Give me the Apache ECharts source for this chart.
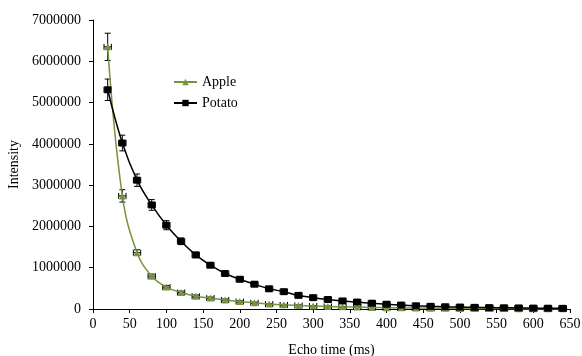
<!DOCTYPE html>
<html><head><meta charset="utf-8">
<script src="https://cdn.jsdelivr.net/npm/echarts@6/dist/echarts.min.js"></script>
<style>html,body{margin:0;padding:0;background:#fff}#c{width:582px;height:356px}</style>
</head><body><div id="c"></div>
<script>
var echoTime = [20,40,60,80,100,120,140,160,180,200,220,240,260,280,300,320,340,360,380,400,420,440,460,480,500,520,540,560,580,600,620,640];
var apple = [6350000,2740000,1365000,795000,530000,400000,310000,265000,220000,180000,150000,120000,100000,87000,74000,62000,53000,46000,39000,33000,28000,24000,20000,18000,15000,13000,11000,10000,9000,8000,7000,6000];
var potato = [5310000,4020000,3120000,2520000,2030000,1640000,1310000,1060000,860000,720000,600000,490000,420000,330000,275000,230000,195000,168000,140000,115000,95000,78000,65000,55000,47000,40000,34000,30000,26000,22000,19000,16000];
var appleErr = [330000,150000,70000,50000,40000,35000,30000,25000,22000,20000,18000,15000,13000,12000,11000,10000,9000,8000,7000,6000,6000,5000,5000,4000,4000,4000,3000,3000,3000,3000,3000,3000];
var potatoErr = [260000,190000,150000,130000,110000,80000,65000,55000,50000,45000,40000,35000,30000,28000,25000,22000,20000,18000,16000,14000,12000,11000,10000,9000,8000,7000,6000,6000,5000,5000,5000,5000];
var xErr = 5;
var yTicks = ['0','1000000','2000000','3000000','4000000','5000000','6000000','7000000'];
var xTicks = ['0','50','100','150','200','250','300','350','400','450','500','550','600','650'];

var green = '#77933C', black = '#000000';
function pairs(v){ return echoTime.map(function(t,i){return [t, v[i]];}); }
function errData(v,e){ return echoTime.map(function(t,i){return [t, v[i], e[i]];}); }
function errRender(color){
  return function(params, api){
    var x = api.value(0), y = api.value(1), e = api.value(2);
    var top = api.coord([x, y + e]), bot = api.coord([x, y - e]);
    var lft = api.coord([x - xErr, y]), rgt = api.coord([x + xErr, y]);
    var c = 3, st = {stroke: color, lineWidth: 1};
    return {type:'group', children:[
      {type:'line', shape:{x1:top[0],y1:top[1],x2:bot[0],y2:bot[1]}, style:st},
      {type:'line', shape:{x1:top[0]-c,y1:top[1],x2:top[0]+c,y2:top[1]}, style:st},
      {type:'line', shape:{x1:bot[0]-c,y1:bot[1],x2:bot[0]+c,y2:bot[1]}, style:st},
      {type:'line', shape:{x1:lft[0],y1:lft[1],x2:rgt[0],y2:rgt[1]}, style:st},
      {type:'line', shape:{x1:lft[0],y1:lft[1]-c,x2:lft[0],y2:lft[1]+c}, style:st},
      {type:'line', shape:{x1:rgt[0],y1:rgt[1]-c,x2:rgt[0],y2:rgt[1]+c}, style:st}
    ]};
  };
}
var font = 'Liberation Serif';
var chart = echarts.init(document.getElementById('c'));
chart.setOption({
  animation:false,
  backgroundColor:'#fff',
  textStyle:{fontFamily:font},
  grid:{left:93, right:12, top:20, bottom:47, containLabel:false, outerBoundsMode:'none'},
  legend:{
    orient:'vertical', left:168, top:70, itemGap:7, itemWidth:23, itemHeight:8,
    textStyle:{fontFamily:font, fontSize:14, color:'#000'},
    data:['Apple','Potato']
  },
  xAxis:{
    type:'value', min:0, max:650, interval:50,
    name:'Echo time (ms)', nameLocation:'middle', nameGap:34,
    nameTextStyle:{fontFamily:font, fontSize:14, color:'#000'},
    axisLine:{lineStyle:{color:'#000', width:1}},
    axisTick:{show:true, length:4, lineStyle:{color:'#000'}},
    axisLabel:{fontFamily:font, fontSize:14, color:'#000', margin:8,
      formatter:function(v){ var i = Math.round(v/50); return xTicks[i]; }},
    splitLine:{show:false}
  },
  yAxis:{
    type:'value', min:0, max:7000000, interval:1000000,
    name:'Intensity', nameLocation:'middle', nameGap:72, nameRotate:90,
    nameTextStyle:{fontFamily:font, fontSize:14, color:'#000'},
    axisLine:{show:true, lineStyle:{color:'#000', width:1}},
    axisTick:{show:true, length:4, lineStyle:{color:'#000'}},
    axisLabel:{fontFamily:font, fontSize:14, color:'#000', margin:12,
      formatter:function(v){ var i = Math.round(v/1000000); return yTicks[i]; }},
    splitLine:{show:false}
  },
  series:[
    {name:'AppleErr', type:'custom', renderItem:errRender(black), data:errData(apple, appleErr), z:3, silent:true},
    {name:'PotatoErr', type:'custom', renderItem:errRender(black), data:errData(potato, potatoErr), z:3, silent:true},
    {name:'Apple', type:'line', smooth:0.4, data:pairs(apple), symbol:'triangle', symbolSize:7,
      lineStyle:{color:green, width:1.5}, itemStyle:{color:green}, z:4},
    {name:'Potato', type:'line', smooth:0.4, data:pairs(potato), symbol:'rect', symbolSize:7,
      lineStyle:{color:black, width:1.5}, itemStyle:{color:black}, z:5}
  ]
});
</script></body></html>
